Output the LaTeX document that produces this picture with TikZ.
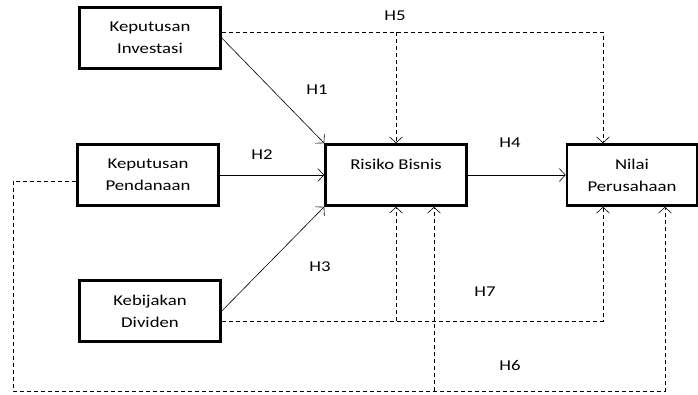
\documentclass[tikz,border=0pt]{standalone}
\usepackage{fontspec}
\setmainfont{Carlito}[FakeStretch=1.25]
\usetikzlibrary{arrows.meta}
\tikzset{
  varbox/.style={draw, line width=2.6pt, minimum width=141pt, minimum height=61pt,
    align=center, inner sep=0pt, font=\fontsize{15}{22}\selectfont},
  hlabel/.style={font=\fontsize{15}{22}\selectfont, inner sep=0pt},
  arr/.style={-{Straight Barb[length=6pt,width=13pt]}, line width=0.6pt},
  dasharr/.style={arr, dash pattern=on 4pt off 3pt}
}
\begin{document}
\begin{tikzpicture}
    [x=1pt,y=-1pt]
    \useasboundingbox (0,0) rectangle (698,394);
    %boxes
    \node[varbox] (inv) at (150,38) {Keputusan\\Investasi};
    \node[varbox] (pen) at (148,175) {Keputusan\\Pendanaan};
    \node[varbox] (div) at (150,311) {Kebijakan\\Dividen};
    \node[varbox] (risk) at (396,175) {Risiko Bisnis\\\mbox{}};
    \node[varbox, minimum width=130pt] (nil) at (632,175) {Nilai\\Perusahaan};
    %labels
    \node[hlabel] (h1) at (317,90) {H1};
    \node[hlabel] (h2) at (262,155) {H2};
    \node[hlabel] (h3) at (320,267) {H3};
    \node[hlabel] (h4) at (510,143) {H4};
    \node[hlabel] (h5) at (395,16) {H5};
    \node[hlabel] (h6) at (510,365) {H6};
    \node[hlabel] (h7) at (485,292) {H7};
    %direct paths
    \draw[arr] (inv.east) -- (risk.north west);
    \draw[arr] (pen.east) -- (risk.west);
    \draw[arr] (div.east) -- (risk.south west);
    \draw[arr] (risk.east) -- (nil.west);
    %H5
    \coordinate (h5start) at ([yshift=6pt]inv.east);
    \draw[dasharr] (h5start) -| ([xshift=-29pt]nil.north);
    \draw[dasharr] (h5start -| risk.north) -- (risk.north);
    %H7
    \coordinate (h7start) at ([yshift=-10pt]div.east);
    \draw[dasharr] (h7start) -| ([xshift=-29pt]nil.south);
    \draw[dasharr] (h7start -| risk.south) -- (risk.south);
    %H6
    \coordinate (h6start) at ([yshift=-6pt]pen.west);
    \coordinate (h6left) at (13,391);
    \draw[dasharr] (h6start) -| (h6left) -| ([xshift=33pt]nil.south);
    \draw[dasharr] ([xshift=38pt]risk.south |- h6left) -- ([xshift=38pt]risk.south);
\end{tikzpicture}
\end{document}
